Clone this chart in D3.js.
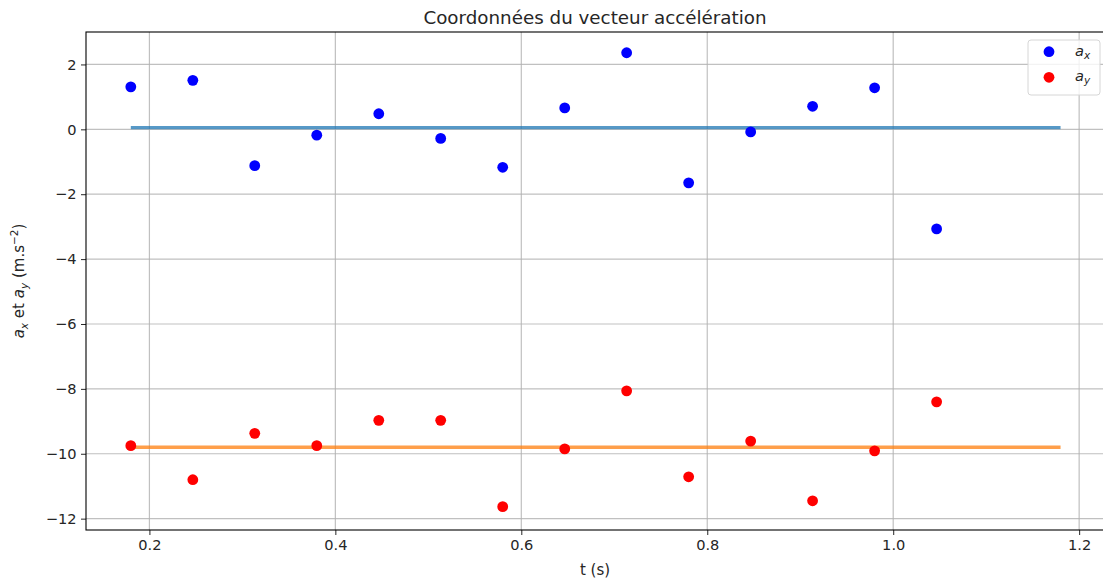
<!DOCTYPE html>
<html>
<head>
<meta charset="utf-8">
<script src="https://cdn.jsdelivr.net/npm/d3@7"></script>
<style>
  html, body { margin: 0; padding: 0; background: #fff; }
  svg { display: block; font-family: "DejaVu Sans", sans-serif; }
</style>
</head>
<body>
<svg id="chart" width="1103" height="581"></svg>
<script>
// Sample times (s)
const times = [0.18, 0.2467, 0.3133, 0.38, 0.4467, 0.5133, 0.58, 0.6467, 0.7133, 0.78, 0.8467, 0.9133, 0.98, 1.0467];
// Measured acceleration components (m.s^-2)
const ax = [1.31, 1.51, -1.12, -0.18, 0.48, -0.28, -1.17, 0.66, 2.36, -1.65, -0.08, 0.71, 1.28, -3.07];
const ay = [-9.75, -10.80, -9.37, -9.75, -8.97, -8.97, -11.63, -9.85, -8.06, -10.71, -9.61, -11.45, -9.91, -8.40];
// Model lines: constant values over the time span
const modelT = [0.18, 1.18];
const modelAx = [0.05, 0.05];
const modelAy = [-9.8, -9.8];
// Tick values
const xTicks = [0.2, 0.4, 0.6, 0.8, 1.0, 1.2];
const yTicks = [-12, -10, -8, -6, -4, -2, 0, 2];

const svg = d3.select("#chart");
const pLeft = 86, pRight = 1105, pTop = 32, pBottom = 530;
const tickFont = "14.6px", labelFont = "15px", titleFont = "18.3px";

const x = d3.scaleLinear().domain([0.1318, 1.2278]).range([pLeft, pRight]);
const y = d3.scaleLinear().domain([-12.35, 3.0]).range([pBottom, pTop]);

const plot = svg.append("g");

// grid
plot.append("g").selectAll("line").data(xTicks).join("line")
  .attr("x1", d => x(d)).attr("x2", d => x(d))
  .attr("y1", pTop).attr("y2", pBottom)
  .attr("stroke", "#b0b0b0").attr("stroke-opacity", 0.8).attr("stroke-width", 1.2);
plot.append("g").selectAll("line").data(yTicks).join("line")
  .attr("x1", pLeft).attr("x2", pRight)
  .attr("y1", d => y(d)).attr("y2", d => y(d))
  .attr("stroke", "#b0b0b0").attr("stroke-opacity", 0.8).attr("stroke-width", 1.2);

// axes
const xAxis = svg.append("g").attr("transform", `translate(0,${pBottom})`)
  .call(d3.axisBottom(x).tickValues(xTicks).tickFormat(d3.format(".1f")).tickSizeOuter(0).tickSize(5).tickPadding(4.5));
const yAxis = svg.append("g").attr("transform", `translate(${pLeft},0)`)
  .call(d3.axisLeft(y).tickValues(yTicks).tickFormat(d3.format("d")).tickSizeOuter(0).tickSize(5).tickPadding(4.5));
[xAxis, yAxis].forEach(a => {
  a.select(".domain").remove();
  a.selectAll("text").attr("font-size", tickFont).attr("fill", "#262626")
    .attr("font-family", "DejaVu Sans, sans-serif");
  a.selectAll("line").attr("stroke", "#262626").attr("stroke-width", 1);
});

// spines
svg.append("rect").attr("x", pLeft).attr("y", pTop)
  .attr("width", pRight - pLeft).attr("height", pBottom - pTop)
  .attr("fill", "none").attr("stroke", "#000").attr("stroke-width", 1.1);

// model lines
const line = d3.line().x(d => x(d[0])).y(d => y(d[1]));
plot.append("path").datum(modelT.map((t, i) => [t, modelAx[i]]))
  .attr("d", line).attr("fill", "none").attr("stroke", "#1f77b4")
  .attr("stroke-opacity", 0.75).attr("stroke-width", 3.3);
plot.append("path").datum(modelT.map((t, i) => [t, modelAy[i]]))
  .attr("d", line).attr("fill", "none").attr("stroke", "#ff7f0e")
  .attr("stroke-opacity", 0.75).attr("stroke-width", 3.3);

// measured points
plot.append("g").selectAll("circle").data(times).join("circle")
  .attr("cx", d => x(d)).attr("cy", (d, i) => y(ax[i])).attr("r", 5.4).attr("fill", "#0000ff");
plot.append("g").selectAll("circle").data(times).join("circle")
  .attr("cx", d => x(d)).attr("cy", (d, i) => y(ay[i])).attr("r", 5.4).attr("fill", "#ff0000");

// title and axis labels
svg.append("text").attr("x", 595).attr("y", 24).attr("text-anchor", "middle")
  .attr("font-size", titleFont).attr("fill", "#262626").text("Coordonnées du vecteur accélération");
svg.append("text").attr("x", 595).attr("y", 575).attr("text-anchor", "middle")
  .attr("font-size", labelFont).attr("fill", "#262626").text("t (s)");

const yl = svg.append("text").attr("transform", `translate(24,281) rotate(-90)`)
  .attr("text-anchor", "middle").attr("font-size", labelFont).attr("fill", "#262626");
yl.append("tspan").attr("font-style", "italic").text("a");
yl.append("tspan").attr("font-style", "italic").attr("font-size", "10.5px").attr("dy", 3.5).text("x");
yl.append("tspan").attr("dy", -3.5).text(" et ");
yl.append("tspan").attr("font-style", "italic").text("a");
yl.append("tspan").attr("font-style", "italic").attr("font-size", "10.5px").attr("dy", 3.5).text("y");
yl.append("tspan").attr("dy", -3.5).text(" (m.s");
yl.append("tspan").attr("font-size", "10.5px").attr("dy", -6).text("−2");
yl.append("tspan").attr("dy", 6).text(")");

// legend
const lg = svg.append("g");
lg.append("rect").attr("x", 1028).attr("y", 40).attr("width", 72).attr("height", 55)
  .attr("rx", 3).attr("fill", "#fff").attr("fill-opacity", 0.8)
  .attr("stroke", "#d6d6d6").attr("stroke-width", 1);
const entries = [["x", "#0000ff"], ["y", "#ff0000"]];
entries.forEach(([s, c], i) => {
  const cy = 51.7 + i * 25.6;
  lg.append("circle").attr("cx", 1049).attr("cy", cy).attr("r", 5.4).attr("fill", c);
  const t = lg.append("text").attr("x", 1075).attr("y", cy + 4).attr("font-size", tickFont).attr("fill", "#262626");
  t.append("tspan").attr("font-style", "italic").text("a");
  t.append("tspan").attr("font-style", "italic").attr("font-size", "10.5px").attr("dy", 3).text(s);
});
</script>
</body>
</html>
